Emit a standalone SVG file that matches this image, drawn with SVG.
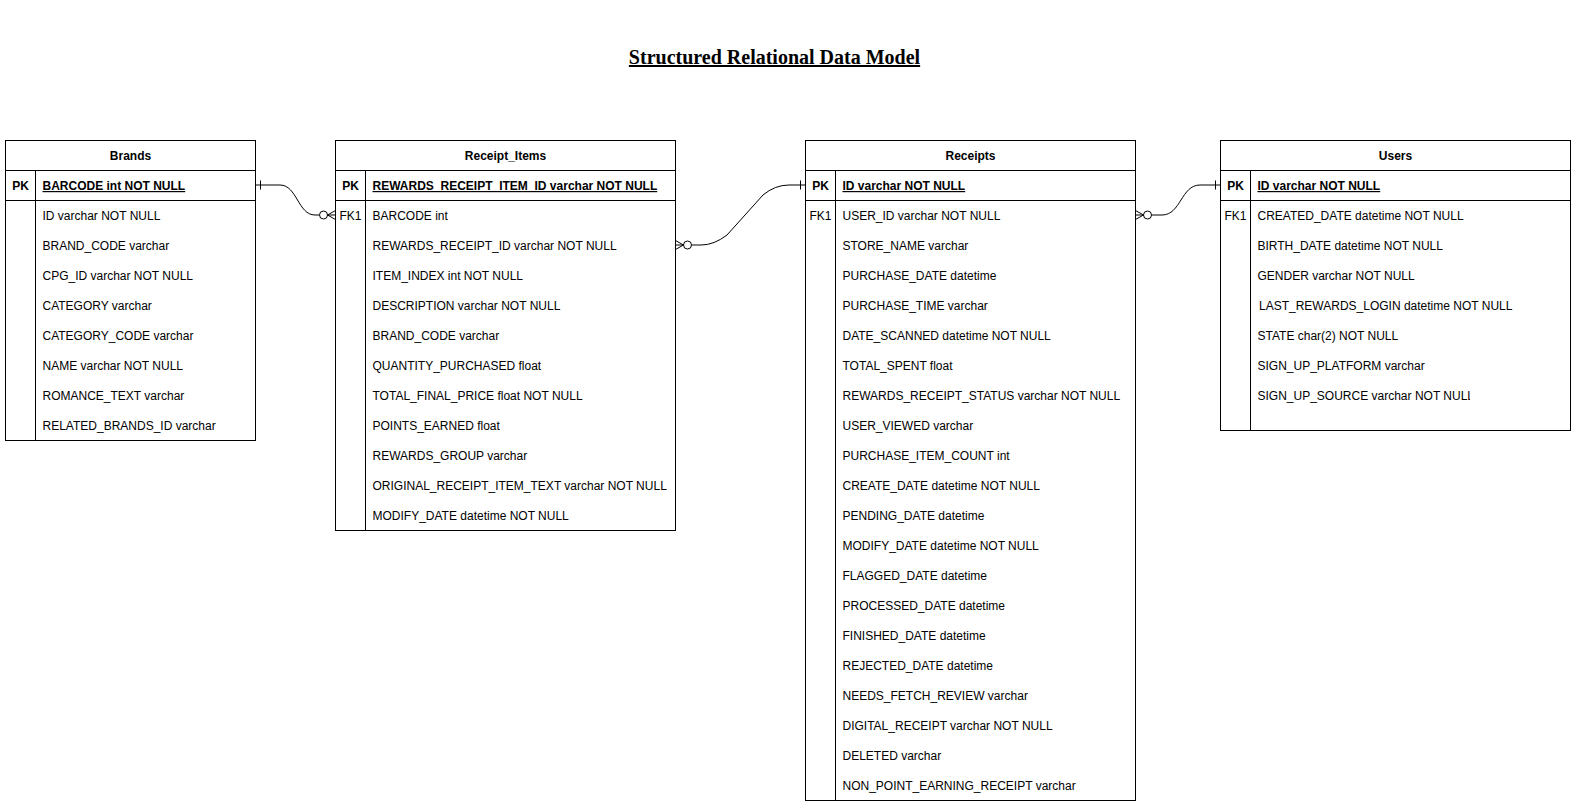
<svg xmlns="http://www.w3.org/2000/svg" width="1577" height="809" viewBox="0 0 1577 809">
<style>
  .box{fill:#ffffff;stroke:#000000;stroke-width:1}
  .ln{stroke:#000000;stroke-width:1;fill:none}
  .t{font-family:"Liberation Sans",Arial,Helvetica,sans-serif;font-size:12px;fill:#000000}
  .h{font-family:"Liberation Sans",Arial,Helvetica,sans-serif;font-size:12px;font-weight:bold;fill:#000000;text-anchor:middle}
  .k{font-family:"Liberation Sans",Arial,Helvetica,sans-serif;font-size:12px;font-weight:bold;fill:#000000;text-anchor:middle}
  .kn{font-family:"Liberation Sans",Arial,Helvetica,sans-serif;font-size:12px;fill:#000000;text-anchor:middle}
  .pk{font-weight:bold;text-decoration:underline}
  .title{font-family:"Liberation Serif","Times New Roman",serif;font-size:20px;font-weight:bold;text-decoration:underline;text-anchor:middle;fill:#000000}
  .edge{stroke:#000000;stroke-width:1;fill:none}
  .circ{stroke:#000000;stroke-width:1;fill:#ffffff}
</style>
<defs>
  <clipPath id="clipSrc"><rect x="1250" y="380" width="220" height="30"/></clipPath>
</defs>
<rect x="0" y="0" width="1577" height="809" fill="#ffffff"/>

<g id="title">
  <text class="title" x="774.5" y="64">Structured Relational Data Model</text>
</g>

<g id="brands">
  <rect class="box" x="5.5" y="140.5" width="250" height="300"/>
  <line class="ln" x1="5.5" y1="170.5" x2="255.5" y2="170.5"/>
  <line class="ln" x1="5.5" y1="200.5" x2="255.5" y2="200.5"/>
  <line class="ln" x1="35.5" y1="170.5" x2="35.5" y2="440.5"/>
  <text class="h" x="130.5" y="160">Brands</text>
  <text class="k" x="20.5" y="190">PK</text>
  <text class="t pk" x="42.5" y="190">BARCODE int NOT NULL</text>
  <text class="t" x="42.5" y="220">ID varchar NOT NULL</text>
  <text class="t" x="42.5" y="250">BRAND_CODE varchar</text>
  <text class="t" x="42.5" y="280">CPG_ID varchar NOT NULL</text>
  <text class="t" x="42.5" y="310">CATEGORY varchar</text>
  <text class="t" x="42.5" y="340">CATEGORY_CODE varchar</text>
  <text class="t" x="42.5" y="370">NAME varchar NOT NULL</text>
  <text class="t" x="42.5" y="400">ROMANCE_TEXT varchar</text>
  <text class="t" x="42.5" y="430">RELATED_BRANDS_ID varchar</text>
</g>

<g id="receipt_items">
  <rect class="box" x="335.5" y="140.5" width="340" height="390"/>
  <line class="ln" x1="335.5" y1="170.5" x2="675.5" y2="170.5"/>
  <line class="ln" x1="335.5" y1="200.5" x2="675.5" y2="200.5"/>
  <line class="ln" x1="365.5" y1="170.5" x2="365.5" y2="530.5"/>
  <text class="h" x="505.5" y="160">Receipt_Items</text>
  <text class="k" x="350.5" y="190">PK</text>
  <text class="t pk" x="372.5" y="190">REWARDS_RECEIPT_ITEM_ID varchar NOT NULL</text>
  <text class="kn" x="350.5" y="220">FK1</text>
  <text class="t" x="372.5" y="220">BARCODE int</text>
  <text class="t" x="372.5" y="250">REWARDS_RECEIPT_ID varchar NOT NULL</text>
  <text class="t" x="372.5" y="280">ITEM_INDEX int NOT NULL</text>
  <text class="t" x="372.5" y="310">DESCRIPTION varchar NOT NULL</text>
  <text class="t" x="372.5" y="340">BRAND_CODE varchar</text>
  <text class="t" x="372.5" y="370">QUANTITY_PURCHASED float</text>
  <text class="t" x="372.5" y="400">TOTAL_FINAL_PRICE float NOT NULL</text>
  <text class="t" x="372.5" y="430">POINTS_EARNED float</text>
  <text class="t" x="372.5" y="460">REWARDS_GROUP varchar</text>
  <text class="t" x="372.5" y="490">ORIGINAL_RECEIPT_ITEM_TEXT varchar NOT NULL</text>
  <text class="t" x="372.5" y="520">MODIFY_DATE datetime NOT NULL</text>
</g>

<g id="receipts">
  <rect class="box" x="805.5" y="140.5" width="330" height="660"/>
  <line class="ln" x1="805.5" y1="170.5" x2="1135.5" y2="170.5"/>
  <line class="ln" x1="805.5" y1="200.5" x2="1135.5" y2="200.5"/>
  <line class="ln" x1="835.5" y1="170.5" x2="835.5" y2="800.5"/>
  <text class="h" x="970.5" y="160">Receipts</text>
  <text class="k" x="820.5" y="190">PK</text>
  <text class="t pk" x="842.5" y="190">ID varchar NOT NULL</text>
  <text class="kn" x="820.5" y="220">FK1</text>
  <text class="t" x="842.5" y="220">USER_ID varchar NOT NULL</text>
  <text class="t" x="842.5" y="250">STORE_NAME varchar</text>
  <text class="t" x="842.5" y="280">PURCHASE_DATE datetime</text>
  <text class="t" x="842.5" y="310">PURCHASE_TIME varchar</text>
  <text class="t" x="842.5" y="340">DATE_SCANNED datetime NOT NULL</text>
  <text class="t" x="842.5" y="370">TOTAL_SPENT float</text>
  <text class="t" x="842.5" y="400">REWARDS_RECEIPT_STATUS varchar NOT NULL</text>
  <text class="t" x="842.5" y="430">USER_VIEWED varchar</text>
  <text class="t" x="842.5" y="460">PURCHASE_ITEM_COUNT int</text>
  <text class="t" x="842.5" y="490">CREATE_DATE datetime NOT NULL</text>
  <text class="t" x="842.5" y="520">PENDING_DATE datetime</text>
  <text class="t" x="842.5" y="550">MODIFY_DATE datetime NOT NULL</text>
  <text class="t" x="842.5" y="580">FLAGGED_DATE datetime</text>
  <text class="t" x="842.5" y="610">PROCESSED_DATE datetime</text>
  <text class="t" x="842.5" y="640">FINISHED_DATE datetime</text>
  <text class="t" x="842.5" y="670">REJECTED_DATE datetime</text>
  <text class="t" x="842.5" y="700">NEEDS_FETCH_REVIEW varchar</text>
  <text class="t" x="842.5" y="730">DIGITAL_RECEIPT varchar NOT NULL</text>
  <text class="t" x="842.5" y="760">DELETED varchar</text>
  <text class="t" x="842.5" y="790">NON_POINT_EARNING_RECEIPT varchar</text>
</g>

<g id="users">
  <rect class="box" x="1220.5" y="140.5" width="350" height="290"/>
  <line class="ln" x1="1220.5" y1="170.5" x2="1570.5" y2="170.5"/>
  <line class="ln" x1="1220.5" y1="200.5" x2="1570.5" y2="200.5"/>
  <line class="ln" x1="1250.5" y1="170.5" x2="1250.5" y2="430.5"/>
  <text class="h" x="1395.5" y="160">Users</text>
  <text class="k" x="1235.5" y="190">PK</text>
  <text class="t pk" x="1257.5" y="190">ID varchar NOT NULL</text>
  <text class="kn" x="1235.5" y="220">FK1</text>
  <text class="t" x="1257.5" y="220">CREATED_DATE datetime NOT NULL</text>
  <text class="t" x="1257.5" y="250">BIRTH_DATE datetime NOT NULL</text>
  <text class="t" x="1257.5" y="280">GENDER varchar NOT NULL</text>
  <text class="t" x="1259" y="310">LAST_REWARDS_LOGIN datetime NOT NULL</text>
  <text class="t" x="1257.5" y="340">STATE char(2) NOT NULL</text>
  <text class="t" x="1257.5" y="370">SIGN_UP_PLATFORM varchar</text>
  <text class="t" x="1257.5" y="400" clip-path="url(#clipSrc)">SIGN_UP_SOURCE varchar NOT NULL</text>
</g>

<g id="connectors">
  <g id="brands-receipt_items">
    <path class="edge" d="M255.5,185 L280,185 C297,185 298,215 315,215 L319,215"/>
    <line class="edge" x1="260.5" y1="180.5" x2="260.5" y2="189.5"/>
    <circle class="circ" cx="323.5" cy="215" r="4"/>
    <path class="edge" d="M327.5,215 L335.5,210.5 M327.5,215 L335.5,215 M327.5,215 L335.5,219.5"/>
  </g>
  <g id="receipt_items-receipts">
    <path class="edge" d="M691.5,245 L701,245 Q714,245 727,235 L763,195 Q775,185 789,185 L805.5,185"/>
    <line class="edge" x1="800.5" y1="180.5" x2="800.5" y2="189.5"/>
    <circle class="circ" cx="687.5" cy="245" r="4"/>
    <path class="edge" d="M683.5,245 L675.5,240.5 M683.5,245 L675.5,245 M683.5,245 L675.5,249.5"/>
  </g>
  <g id="receipts-users">
    <path class="edge" d="M1151.5,215 L1162,215 C1181,215 1181,185 1200,185 L1220.5,185"/>
    <line class="edge" x1="1215.5" y1="180.5" x2="1215.5" y2="189.5"/>
    <circle class="circ" cx="1147.5" cy="215" r="4"/>
    <path class="edge" d="M1143.5,215 L1135.5,210.5 M1143.5,215 L1135.5,215 M1143.5,215 L1135.5,219.5"/>
  </g>
</g>
</svg>
